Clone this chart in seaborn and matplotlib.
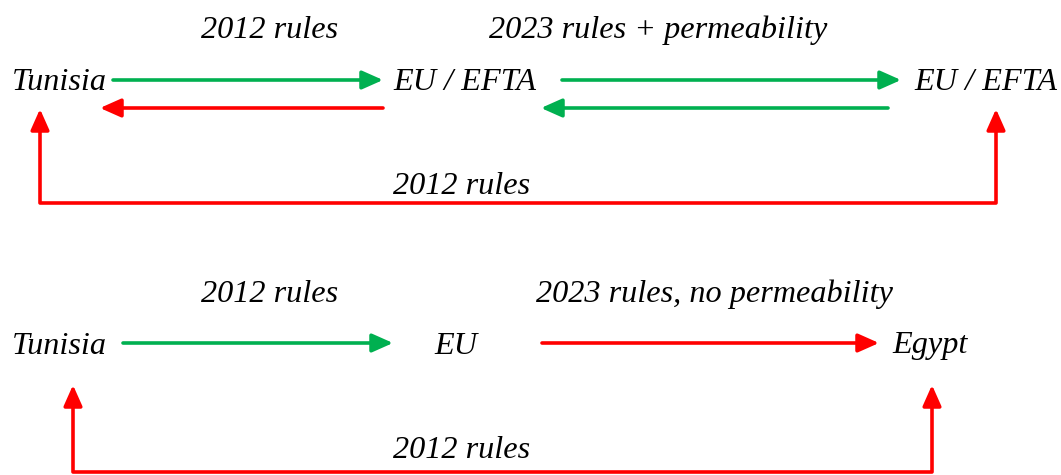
import matplotlib
matplotlib.use("Agg")
import matplotlib.pyplot as plt
import seaborn as sns
import pandas as pd

sns.set_theme(style="white")
plt.rcParams['font.family'] = ['Liberation Serif', 'DejaVu Serif']

# Donnees du schema
noeuds_haut = ["Tunisia", "EU / EFTA", "EU / EFTA"]
noeuds_bas = ["Tunisia", "EU", "Egypt"]
regles_haut = ["2012 rules", "2023 rules + permeability", "2012 rules"]
regles_bas = ["2012 rules", "2023 rules, no permeability", "2012 rules"]
# statut de chaque fleche : True = accepte (vert), False = refuse (rouge)
fleches_haut = {"aller_1": True, "retour_1": False, "aller_2": True, "retour_2": True, "boucle": False}
fleches_bas = {"aller_1": True, "aller_2": False, "boucle": False}

VERT = "#00B050"
ROUGE = "#FF0000"
LW = 2.6
FS = 23.2
DY = 3  # petit decalage vertical des textes


def couleur(ok):
    return VERT if ok else ROUGE


def fleche(ax, x0, y0, x1, y1, ok):
    ax.annotate("", xy=(x1, y1), xytext=(x0, y0),
                arrowprops=dict(arrowstyle="-|>,head_length=0.9,head_width=0.4",
                                color=couleur(ok), lw=LW, shrinkA=0, shrinkB=0,
                                mutation_scale=14))


def boucle(ax, xg, xd, y_bas, y_pointe, ok):
    seg = pd.DataFrame({"x": [xg, xg, xd, xd],
                        "y": [y_pointe + 10, y_bas, y_bas, y_pointe + 10]})
    sns.lineplot(data=seg, x="x", y="y", sort=False, color=couleur(ok),
                 lw=LW, ax=ax, estimator=None)
    fleche(ax, xg, y_pointe + 12, xg, y_pointe, ok)
    fleche(ax, xd, y_pointe + 12, xd, y_pointe, ok)


fig, ax = plt.subplots(figsize=(10.61, 4.75), dpi=100)
fig.subplots_adjust(0, 0, 1, 1)
ax.set_xlim(0, 1061)
ax.set_ylim(475, 0)
ax.axis("off")

txt = dict(fontsize=FS, style="italic", color="black", va="center")

# --- Partie haute ---
ax.text(12, 80 + DY, noeuds_haut[0], ha="left", **txt)
ax.text(465, 80 + DY, noeuds_haut[1], ha="center", **txt)
ax.text(1057, 80 + DY, noeuds_haut[2], ha="right", **txt)
ax.text(270, 27 + DY, regles_haut[0], ha="center", **txt)
ax.text(658, 27 + DY, regles_haut[1], ha="center", **txt)
ax.text(462, 183 + DY, regles_haut[2], ha="center", **txt)

fleche(ax, 113, 80, 383, 80, fleches_haut["aller_1"])
fleche(ax, 383, 108, 100, 108, fleches_haut["retour_1"])
fleche(ax, 562, 80, 901, 80, fleches_haut["aller_2"])
fleche(ax, 888, 108, 541, 108, fleches_haut["retour_2"])
boucle(ax, 40, 996, 203, 109, fleches_haut["boucle"])

# --- Partie basse ---
ax.text(12, 343 + DY, noeuds_bas[0], ha="left", **txt)
ax.text(456, 343 + DY, noeuds_bas[1], ha="center", **txt)
ax.text(892, 343 + DY, noeuds_bas[2], ha="left", **txt)
ax.text(270, 291 + DY, regles_bas[0], ha="center", **txt)
ax.text(715, 291 + DY, regles_bas[1], ha="center", **txt)
ax.text(462, 448 + DY, regles_bas[2], ha="center", **txt)

fleche(ax, 123, 343, 393, 343, fleches_bas["aller_1"])
fleche(ax, 542, 343, 879, 343, fleches_bas["aller_2"])
boucle(ax, 73, 932, 472, 385, fleches_bas["boucle"])

fig.savefig("out.png", dpi=100)
